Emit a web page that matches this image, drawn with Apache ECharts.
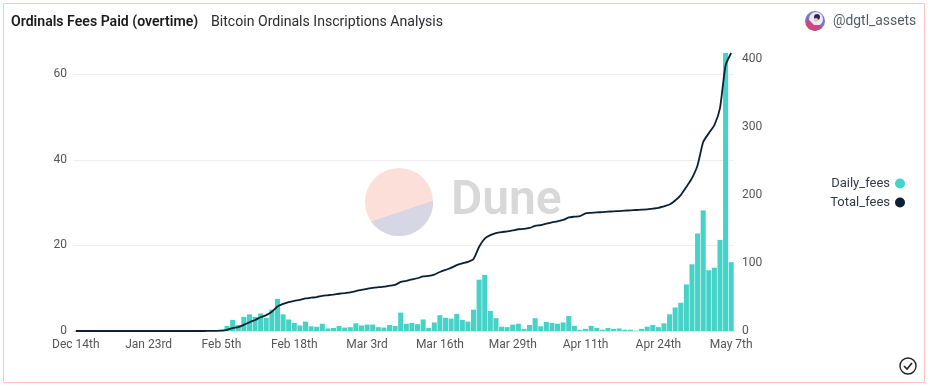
<!DOCTYPE html>
<html><head><meta charset="utf-8">
<style>html,body{margin:0;padding:0;background:#fff}#c{width:932px;height:388px}</style>
<script src="https://cdn.jsdelivr.net/npm/echarts@6/dist/echarts.min.js"></script>
</head><body><div id="c"></div>
<script>
const categories = ["Dec 14th","Jan 11th","Jan 12th","Jan 13th","Jan 14th","Jan 15th","Jan 16th","Jan 17th","Jan 18th","Jan 19th","Jan 20th","Jan 21st","Jan 22nd",
"Jan 23rd","Jan 24th","Jan 25th","Jan 26th","Jan 27th","Jan 28th","Jan 29th","Jan 30th","Jan 31st","Feb 1st","Feb 2nd","Feb 3rd","Feb 4th",
"Feb 5th","Feb 6th","Feb 7th","Feb 8th","Feb 9th","Feb 10th","Feb 11th","Feb 12th","Feb 13th","Feb 14th","Feb 15th","Feb 16th","Feb 17th",
"Feb 18th","Feb 19th","Feb 20th","Feb 21st","Feb 22nd","Feb 23rd","Feb 24th","Feb 25th","Feb 26th","Feb 27th","Feb 28th","Mar 1st","Mar 2nd",
"Mar 3rd","Mar 4th","Mar 5th","Mar 6th","Mar 7th","Mar 8th","Mar 9th","Mar 10th","Mar 11th","Mar 12th","Mar 13th","Mar 14th","Mar 15th",
"Mar 16th","Mar 17th","Mar 18th","Mar 19th","Mar 20th","Mar 21st","Mar 22nd","Mar 23rd","Mar 24th","Mar 25th","Mar 26th","Mar 27th","Mar 28th",
"Mar 29th","Mar 30th","Mar 31st","Apr 1st","Apr 2nd","Apr 3rd","Apr 4th","Apr 5th","Apr 6th","Apr 7th","Apr 8th","Apr 9th","Apr 10th",
"Apr 11th","Apr 12th","Apr 13th","Apr 14th","Apr 15th","Apr 16th","Apr 17th","Apr 18th","Apr 19th","Apr 20th","Apr 21st","Apr 22nd","Apr 23rd",
"Apr 24th","Apr 25th","Apr 26th","Apr 27th","Apr 28th","Apr 29th","Apr 30th","May 1st","May 2nd","May 3rd","May 4th","May 5th","May 6th","May 7th"];
const dailyFees = [0,0,0,0,0,0,0,0,0,0,0,0,0,
0,0,0,0,0,0,0,0,0,0,0,0.1,0.1,
0.3,1.2,2.6,1.4,3.3,3.9,3.3,4.1,3.1,5,7.5,3.9,2.7,
1.9,1.3,2.2,1.1,1,1.7,0.6,0.7,1.2,0.8,0.9,1.8,1.3,
1.5,1.5,0.9,0.8,1.4,1.2,4.3,1.7,1.9,1.6,2.7,0.7,2,
3.7,3.1,2.9,4,2.6,2.2,5,12,13.1,4.7,3,1,0.9,
1.5,1.7,0.5,1.4,3,1.1,2.1,1.9,1.7,2,3.5,1.2,0.3,
0.5,1.2,0.7,0.3,0.7,0.5,0.6,0.3,0.3,0.1,0.5,1,1.4,
0.9,1.8,3.9,5.5,6.6,10.9,15.6,22.8,28.2,14.2,14.8,21.3,65,16.1];
const totalFees = [0,0,0,0,0,0,0,0,0,0,0,0,0,
0,0,0,0,0,0,0,0,0,0,0,0.1,0.2,
0.5,1.7,4.3,5.7,9,12.9,16.2,20.3,23.4,28.4,35.9,39.8,42.5,
44.4,45.7,47.9,49,50,51.7,52.6,53.6,54.8,55.8,56.8,58.8,60.4,
62,63.5,64.4,65.2,66.6,67.8,72.2,73.9,75.8,77.6,80.3,81,83,
86.8,89.9,92.8,96.8,99.4,101.6,106,124,136,141,144,145.5,146.5,
148,149.7,150.2,151.6,154.6,155.7,157.8,159.7,161.4,163.4,167,168.2,169,
173,173.8,174.4,175,175.6,176,176.5,177,177.5,178,178.5,179,180,
181,183.5,186,192,200,212,225,244,278,291,303,328,391,409];

const FONT = 'Roboto';
const chart = echarts.init(document.getElementById('c'));
const cx = 399, cy = 202, r = 34;
const segmentPts = [];
for (let a = -2.2; a <= 146.3; a += 3) {
  segmentPts.push([cx + r * Math.cos(a * Math.PI / 180), cy + r * Math.sin(a * Math.PI / 180)]);
}
chart.setOption({
  animation:false,
  backgroundColor:'#fff',
  textStyle:{fontFamily:FONT},
  title:[
    {text:'Ordinals Fees Paid (overtime)',left:11,top:15,padding:0,textStyle:{fontFamily:FONT,fontSize:14.1,fontWeight:600,color:'#1a1a1a'}},
    {text:'Bitcoin Ordinals Inscriptions Analysis',left:211,top:15,padding:0,textStyle:{fontFamily:FONT,fontSize:14.1,fontWeight:400,color:'#2b2b33'}}
  ],
  legend:{
    data:['Daily_fees','Total_fees'],orient:'vertical',align:'right',right:27,top:177,
    icon:'circle',itemWidth:10,itemHeight:10,itemGap:6,padding:0,selectedMode:false,
    textStyle:{fontFamily:FONT,fontSize:13,color:'#333a44'}
  },
  grid:{left:73,right:198,top:53,bottom:57},
  xAxis:{type:'category',data:categories,
    axisLine:{lineStyle:{color:'#e6e6e6'}},axisTick:{show:false},
    axisLabel:{interval:12,color:'#555',fontSize:12,margin:8}},
  yAxis:[
    {type:'value',min:0,max:65,interval:20,axisLine:{show:false},axisTick:{show:false},
     splitLine:{showMaxLine:false,lineStyle:{color:'#eeeeee'}},
     axisLabel:{color:'#555',fontSize:12,margin:6,showMaxLabel:false}},
    {type:'value',position:'right',min:0,max:409,interval:100,axisLine:{show:false},axisTick:{show:false},
     splitLine:{show:false},
     axisLabel:{color:'#555',fontSize:12,margin:8,showMaxLabel:false}}
  ],
  series:[
    {name:'Daily_fees',type:'bar',yAxisIndex:0,data:dailyFees,barCategoryGap:'10%',
     itemStyle:{color:'#45d3c7'},z:2},
    {name:'Total_fees',type:'line',yAxisIndex:1,data:totalFees,showSymbol:false,symbol:'none',smooth:0.2,
     lineStyle:{color:'#0c2033',width:1.8},itemStyle:{color:'#0c2033'},z:3}
  ],
  graphic:[
    {type:'rect',z:-10,silent:true,shape:{x:3.5,y:3.5,width:921,height:379},style:{fill:'none',stroke:'#ffc4bf',lineWidth:1}},
    {type:'circle',z:-9,silent:true,shape:{cx:cx,cy:cy,r:r},style:{fill:'#fcdfd8'}},
    {type:'polygon',z:-8,silent:true,shape:{points:segmentPts},style:{fill:'#d6d6e4'}},
    {type:'text',z:-8,silent:true,style:{x:451,y:202,text:'Dune',fill:'#d8d8d8',font:'600 48px '+FONT,verticalAlign:'middle'}},
    {type:'circle',silent:true,shape:{cx:815,cy:21,r:10},style:{fill:'#7b78c8'}},
    {type:'circle',silent:true,shape:{cx:816,cy:19,r:7},style:{fill:'#ece8f6'}},
    {type:'polygon',silent:true,shape:{points:[[806,25],[807,18],[810,21],[814,25],[820,25],[822,28],[815,31],[809,29]]},style:{fill:'#c94a7c'}},
    {type:'circle',silent:true,shape:{cx:817,cy:17,r:3},style:{fill:'#2e2a4a'}},
    {type:'circle',silent:true,shape:{cx:816,cy:20,r:2},style:{fill:'#f1c6b8'}},
    {type:'text',silent:true,style:{x:833,y:21.5,text:'@dgtl_assets',fill:'#555b66',font:'400 13.9px '+FONT,verticalAlign:'middle'}},
    {type:'circle',silent:true,shape:{cx:908,cy:366,r:8},style:{fill:'none',stroke:'#222',lineWidth:1.4}},
    {type:'polyline',silent:true,shape:{points:[[904,366],[907,369],[912,363]]},style:{fill:'none',stroke:'#222',lineWidth:1.6}}
  ]
});
</script></body></html>
